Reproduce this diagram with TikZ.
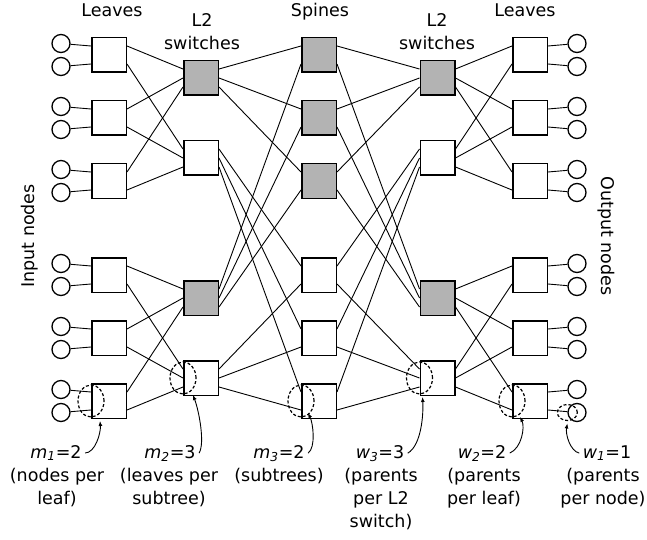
\documentclass[tikz,border=0pt]{standalone}
\usepackage{fontspec}
\setmainfont{DejaVu Sans}
\usepackage{tikz}
\usetikzlibrary{arrows.meta,calc,positioning}
\definecolor{SwitchGray}{RGB}{179,179,179}
\newcommand{\wire}[4]{%
  \draw[link] ($(#1.east)+(0,#2)$)--($(#3.west)+(0,#4)$);}

\begin{document}
\begin{tikzpicture}[x=1pt,y=-1pt,
  font=\fontsize{17.5}{23}\selectfont,
  box/.style={draw,line width=1.5pt,minimum size=34.5pt,inner sep=0pt,fill=white},
  host/.style={draw,circle,line width=1.3pt,minimum size=18pt,inner sep=0pt,fill=white},
  link/.style={line width=0.9pt},
  ring/.style={line width=1.2pt,dash pattern=on 3pt off 2pt},
  pointer/.style={line width=0.9pt,-{Latex[length=5pt,width=4pt]}}]
  \useasboundingbox (0,0) rectangle (647,540);

  % leaves, spines and the nodes hanging off each leaf
  \foreach \k/\y/\f in {1/55/SwitchGray,2/118/SwitchGray,3/181/SwitchGray,
                        4/275/white,5/338/white,6/401/white}{
    \node[box] (l\k) at (109,\y) {};
    \node[box] (r\k) at (530,\y) {};
    \node[box,fill=\f] (s\k) at (319,\y) {};
    \node[host] (ia\k) at (61,\y-11.5) {};
    \node[host] (ib\k) at (61,\y+11.5) {};
    \node[host] (oa\k) at (577,\y-11.5) {};
    \node[host] (ob\k) at (577,\y+11.5) {};
  }
  % L2 switches
  \foreach \k/\y/\f in {1/78/SwitchGray,2/158/white,3/298/SwitchGray,4/378/white}{
    \node[box,fill=\f] (la\k) at (201,\y) {};
    \node[box,fill=\f] (ra\k) at (437.5,\y) {};
  }

  % nodes <-> leaves
  \foreach \k in {1,...,6}{
    \draw[link] (ia\k) -- ($(l\k.west)+(0,-9)$);
    \draw[link] (ib\k) -- ($(l\k.west)+(0,9)$);
    \draw[link] ($(r\k.east)+(0,-9)$) -- (oa\k);
    \draw[link] ($(r\k.east)+(0,9)$) -- (ob\k);
  }
  % leaves <-> L2 switches
  \foreach \k/\d/\a/\b in {1/-9/1/2,2/0/1/2,3/9/1/2,4/-9/3/4,5/0/3/4,6/9/3/4}{
    \wire{l\k}{-9}{la\a}{\d}
    \wire{l\k}{9}{la\b}{\d}
    \wire{ra\a}{\d}{r\k}{-9}
    \wire{ra\b}{\d}{r\k}{9}
  }
  % L2 switches <-> spines
  \foreach \k/\d/\a/\b in {1/-9/1/3,2/0/1/3,3/9/1/3,4/-9/2/4,5/0/2/4,6/9/2/4}{
    \wire{la\a}{\d}{s\k}{-9}
    \wire{la\b}{\d}{s\k}{9}
    \wire{s\k}{-9}{ra\a}{\d}
    \wire{s\k}{9}{ra\b}{\d}
  }

  % column titles (base = last line)
  \node[anchor=base] (lvl) at (112,17) {Leaves};
  \node[anchor=base,align=center] (swl) at (202,50) {L2\\switches};
  \node[anchor=base] (spn) at (320,17) {Spines};
  \node[anchor=base,align=center] (swr) at (437,50) {L2\\switches};
  \node[anchor=base] (lvr) at (525,17) {Leaves};
  \node[rotate=90] (inp) at (30,236) {Input nodes};
  \node[rotate=-90] (outp) at (606,236) {Output nodes};

  % dashed groups
  \draw[ring] (l6.west) ellipse [x radius=13pt,y radius=16pt];
  \draw[ring] (la4.west) ellipse [x radius=13pt,y radius=16pt];
  \draw[ring] (s6.west) ellipse [x radius=13pt,y radius=16pt];
  \draw[ring] (ra4.west) ellipse [x radius=13pt,y radius=16pt];
  \draw[ring] (r6.west) ellipse [x radius=13pt,y radius=16pt];
  \draw[ring] (ob6.west) ellipse [x radius=10pt,y radius=8pt];

  % parameters
  \node[anchor=base] (m1) at (56,458) {\textit{m\textsubscript{1}}=2};
  \node[anchor=base,align=center] (m1d) at (57,504) {(nodes per\\leaf)};
  \node[anchor=base] (m2) at (170,458) {\textit{m\textsubscript{2}}=3};
  \node[anchor=base,align=center] (m2d) at (169,504) {(leaves per\\subtree)};
  \node[anchor=base] (m3) at (279,458) {\textit{m\textsubscript{3}}=2};
  \node[anchor=base,align=center] (m3d) at (279,481) {(subtrees)};
  \node[anchor=base] (w3) at (380,458) {\textit{w\textsubscript{3}}=3};
  \node[anchor=base,align=center] (w3d) at (381,527) {(parents\\per L2\\switch)};
  \node[anchor=base] (w2) at (482,458) {\textit{w\textsubscript{2}}=2};
  \node[anchor=base,align=center] (w2d) at (484,504) {(parents\\per leaf)};
  \node[anchor=base] (w1) at (607,458) {\textit{w\textsubscript{1}}=1};
  \node[anchor=base,align=center] (w1d) at (603,504) {(parents\\per node)};

  \coordinate (m1tip) at ($(l6.west)+(9,20)$);
  \coordinate (m2tip) at ($(la4.west)+(10,17)$);
  \coordinate (m3tip) at ($(s6.west)+(7,12)$);
  \coordinate (w3tip) at ($(ra4.west)+(3,19)$);
  \coordinate (w2tip) at ($(r6.west)+(8,16)$);
  \coordinate (w1tip) at ($(ob6.west)+(0,11)$);
  \draw[pointer] (m1.east) .. controls +(10,0) and +(1,12) .. (m1tip);
  \draw[pointer] (m2.east) .. controls +(6,-10) and +(6,16) .. (m2tip);
  \draw[pointer] (m3.east) .. controls +(8,-6) and +(5,10) .. (m3tip);
  \draw[pointer] (w3.east) .. controls +(14,-8) and +(1,16) .. (w3tip);
  \draw[pointer] (w2.east) .. controls +(12,-5) and +(5,10) .. (w2tip);
  \draw[pointer] (w1.west) .. controls +(-9,-2) and +(-2,11) .. (w1tip);
\end{tikzpicture}
\end{document}
